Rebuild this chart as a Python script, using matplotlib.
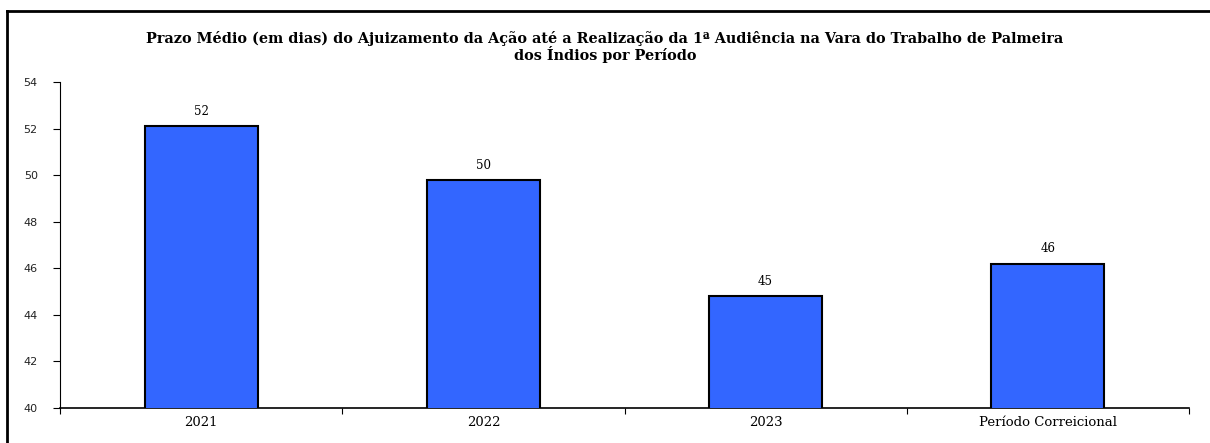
import numpy as np
import matplotlib.pyplot as plt
from matplotlib.lines import Line2D

# data
periodos = ["2021", "2022", "2023", "Período Correicional"]
prazo = [52.1, 49.8, 44.8, 46.2]
rotulos = ["52", "50", "45", "46"]
yticks = [40, 42, 44, 46, 48, 50, 52, 54]

titulo = ("Prazo Médio (em dias) do Ajuizamento da Ação até a Realização da 1ª Audiência "
          "na Vara do Trabalho de Palmeira\ndos Índios por Período")

fig = plt.figure(figsize=(12.1, 4.43), dpi=100)
ax = fig.add_axes([60/1210, 1-408/443, (1189-60)/1210, (408-82)/443])

x = np.arange(len(periodos))
bars = ax.bar(x, prazo, width=0.4, color="#3366FF", edgecolor="black", linewidth=1.5, zorder=3)

for b, r in zip(bars, rotulos):
    ax.text(b.get_x() + b.get_width()/2, b.get_height() + 0.35, r,
            ha="center", va="bottom", fontsize=8.5, family="DejaVu Serif")

ax.set_xlim(-0.5, len(periodos) - 0.5)
ax.set_ylim(40, 54)
ax.set_yticks(yticks)
ax.set_yticklabels([str(v) for v in yticks], fontsize=8, family="DejaVu Sans", color="#222222")
ax.tick_params(axis="y", direction="out", length=5, width=0.8, pad=11)

ax.set_xticks(x)
ax.set_xticklabels(periodos, fontsize=9.5, family="DejaVu Serif")
ax.tick_params(axis="x", which="major", length=0, pad=6)
ax.set_xticks(np.arange(-0.5, len(periodos)), minor=True)
ax.tick_params(axis="x", which="minor", direction="out", length=4, width=0.8)

ax.spines["top"].set_visible(False)
ax.spines["right"].set_visible(False)
ax.spines["left"].set_linewidth(0.8)
ax.spines["bottom"].set_linewidth(1.2)

fig.text(0.5, 1-47/443, titulo, ha="center", va="center", fontsize=10.4,
         fontweight="bold", family="DejaVu Serif", linespacing=0.95)

# moldura do gráfico
fig.add_artist(Line2D([7/1210, 7/1210], [0, 1-11/443], transform=fig.transFigure, color="black", lw=2))
fig.add_artist(Line2D([7/1210, 1], [1-11/443, 1-11/443], transform=fig.transFigure, color="black", lw=2))

plt.savefig("out.png", dpi=100)
